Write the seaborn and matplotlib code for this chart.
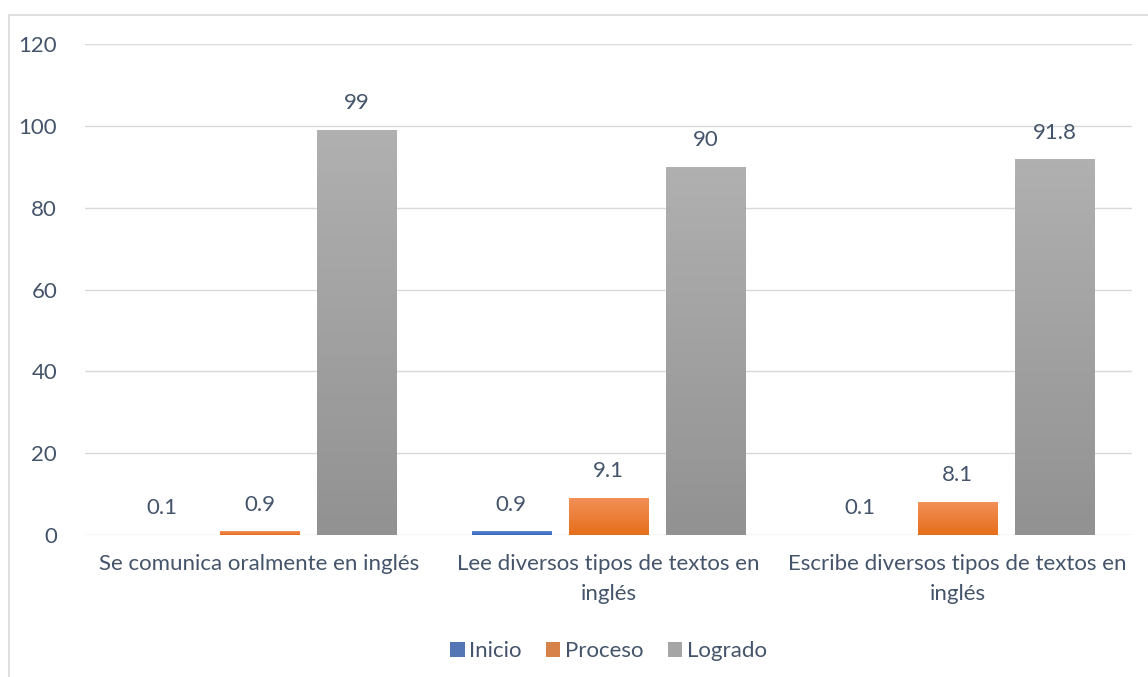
import numpy as np
import pandas as pd
import seaborn as sns
import matplotlib.pyplot as plt
from matplotlib.patches import Rectangle
from matplotlib.colors import LinearSegmentedColormap

# data
categorias = ["Se comunica oralmente en inglés",
              "Lee diversos tipos de textos en\ninglés",
              "Escribe diversos tipos de textos en\ninglés"]
niveles = ["Inicio", "Proceso", "Logrado"]
inicio = [0.1, 0.9, 0.1]
proceso = [0.9, 9.1, 8.1]
logrado = [99, 90, 91.8]

colores = {"Inicio": "#4472C4", "Proceso": "#ED7D31", "Logrado": "#A5A5A5"}
grad = {"Inicio": ("#5B87D6", "#3A66B8"),
        "Proceso": ("#F29159", "#E56E1A"),
        "Logrado": ("#B0B0B0", "#929292")}
txt = "#44546A"

df = pd.DataFrame({
    "cat": np.repeat(categorias, 3),
    "nivel": niveles * 3,
    "valor": [v for trio in zip(inicio, proceso, logrado) for v in trio],
})

sns.set_style("white")
plt.rcParams["font.family"] = ["Lato", "DejaVu Sans"]

fig = plt.figure(figsize=(11.48, 6.77), dpi=100)
ax = fig.add_axes([0.074, 0.2097, 0.912, 0.7253])

sns.barplot(data=df, x="cat", y="valor", hue="nivel", hue_order=niveles,
            palette=colores, width=0.835, gap=0.186, ax=ax, legend=True,
            edgecolor="none", linewidth=0)

# gradient fill like the office chart
for cont, nivel in zip(ax.containers, niveles):
    cmap = LinearSegmentedColormap.from_list(nivel, [grad[nivel][1], grad[nivel][0]])
    for bar in cont:
        x0, y0 = bar.get_x(), bar.get_y()
        w, h = bar.get_width(), bar.get_height()
        im = ax.imshow(np.linspace(0, 1, 64).reshape(-1, 1), cmap=cmap,
                       extent=[x0, x0 + w, y0, y0 + h], origin="lower",
                       aspect="auto", zorder=bar.get_zorder() + 0.1)
        im.set_clip_path(bar)
    ax.bar_label(cont, labels=[f"{v:g}" for v in cont.datavalues],
                 padding=12, fontsize=16, color=txt)

ax.set_xlim(-0.5, 2.5)
ax.set_ylim(0, 120)
ax.set_yticks(range(0, 121, 20))
ax.grid(axis="y", color="#D9D9D9", linewidth=1)
ax.set_axisbelow(True)
for s in ax.spines.values():
    s.set_visible(False)
ax.set_xlabel("")
ax.set_ylabel("")
ax.tick_params(axis="both", length=0, labelsize=16, labelcolor=txt)
ax.tick_params(axis="y", pad=20)
ax.tick_params(axis="x", pad=14)
for t in ax.get_xticklabels():
    t.set_linespacing(1.6)

ax.legend(loc="upper center", bbox_to_anchor=(0.5, -0.175), ncol=3, frameon=False,
          fontsize=16, labelcolor=txt, handlelength=0.65, handleheight=0.65,
          handletextpad=0.2, columnspacing=1.1)

fig.patches.append(Rectangle((0.0078, -0.02), 1.1, 0.998, transform=fig.transFigure,
                             fill=False, edgecolor="#D9D9D9", linewidth=1.2))

fig.savefig("out.png", dpi=100)
